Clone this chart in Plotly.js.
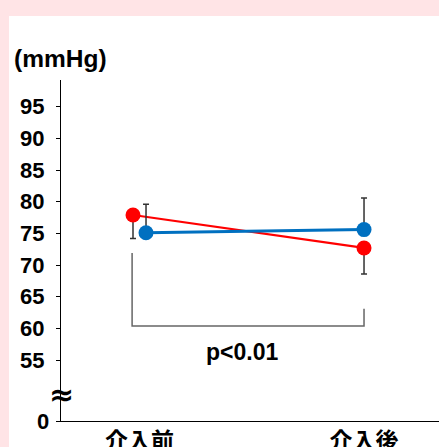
<!DOCTYPE html>
<html>
<head>
<meta charset="utf-8">
<script src="https://cdn.plot.ly/plotly-3.0.1.min.js"></script>
<style>
  html, body { margin: 0; padding: 0; background: #ffe4e6; width: 439px; height: 447px; overflow: hidden; }
  #chart { position: absolute; left: 9px; top: 16px; width: 430px; height: 431px; background: #ffffff; }
</style>
</head>
<body>
<div id="chart"></div>
<script>
// ---- data ----
const categories = ['介入前', '介入後'];
const groupRed = [77.9, 72.7];
const groupRedErrMinus = [3.7, 4.1];
const groupBlue = [75.1, 75.6];
const groupBlueErrPlus = [4.5, 5.0];
const yTickValues = [55, 60, 65, 70, 75, 80, 85, 90, 95];
const yTickLabels = ['55', '60', '65', '70', '75', '80', '85', '90', '95'];
const zeroLabel = '0';
const unitLabel = '(mmHg)';
const pLabel = 'p<0.01';
const bracketLeftTop = 71.9;
const bracketBottom = 60.4;
const bracketRightTop = 63.1;

// ---- layout helpers ----
const catPos = categories.map((c, i) => i);
const dodge = 0.029;
const redX = catPos.map((p, i) => i === 0 ? p - dodge : p);
const blueX = catPos.map((p, i) => i === 0 ? p + dodge : p);
const yBottom = 45.4;
const yTop = 99.2;

const errStyle = { color: '#333333', thickness: 1.5, width: 3 };

const traces = [
  {
    x: [redX[0] - 0.004, redX[0] - 0.004, catPos[1], catPos[1]],
    y: [bracketLeftTop, bracketBottom, bracketBottom, bracketRightTop],
    mode: 'lines', line: { color: '#666666', width: 1.5 }, hoverinfo: 'skip', showlegend: false
  },
  {
    x: redX, y: groupRed, mode: 'lines+markers',
    line: { color: '#ff0000', width: 2.2 },
    marker: { color: '#ff0000', size: 15 },
    error_y: Object.assign({ type: 'data', symmetric: false, array: [0, 0], arrayminus: groupRedErrMinus }, errStyle),
    showlegend: false
  },
  {
    x: blueX, y: groupBlue, mode: 'lines+markers',
    line: { color: '#0070c0', width: 3 },
    marker: { color: '#0070c0', size: 15 },
    error_y: Object.assign({ type: 'data', symmetric: false, array: groupBlueErrPlus, arrayminus: [0, 0] }, errStyle),
    showlegend: false
  }
];

const layout = {
  width: 430, height: 431,
  margin: { l: 52, r: 0, t: 64, b: 26 },
  paper_bgcolor: '#ffffff', plot_bgcolor: '#ffffff',
  font: { family: 'Liberation Sans, Arial, sans-serif', color: '#000000' },
  xaxis: {
    range: [-0.3497, 1.334],
    tickvals: catPos, ticktext: categories,
    tickfont: { family: 'Noto Sans CJK JP', size: 23, weight: 'bold', color: '#000000' },
    showline: true, linecolor: '#000000', linewidth: 1,
    showgrid: false, zeroline: false, ticks: '', ticklabelstandoff: -1
  },
  yaxis: {
    range: [yBottom, yTop],
    tickvals: [yBottom].concat(yTickValues), ticktext: [''].concat(yTickLabels),
    tickfont: { family: 'Liberation Sans, Arial, sans-serif', size: 22, weight: 'bold', color: '#000000' },
    showline: true, linecolor: '#000000', linewidth: 1,
    ticks: 'outside', ticklen: 4, tickcolor: '#000000', tickwidth: 1,
    ticklabelstandoff: 7,
    showgrid: false, zeroline: false
  },
  annotations: [
    { xref: 'paper', yref: 'paper', x: -0.1296, y: 1.0645, xanchor: 'left', yanchor: 'middle',
      text: unitLabel, showarrow: false, font: { size: 24.5, weight: 'bold', color: '#000000' } },
    { xref: 'x', yref: 'y', x: 0.457, y: 56.3, xanchor: 'center', yanchor: 'middle',
      text: pLabel, showarrow: false, font: { size: 23, weight: 'bold', color: '#000000' } },
    { xref: 'paper', yref: 'y', x: 0.002, y: 49.6, xanchor: 'center', yanchor: 'middle',
      text: '≈', showarrow: false, font: { family: 'DejaVu Sans', size: 30, weight: 'bold', color: '#000000' } },
    { xref: 'paper', yref: 'y', x: -0.027, y: yBottom, xanchor: 'right', yanchor: 'middle',
      text: zeroLabel, showarrow: false, font: { size: 22, weight: 'bold', color: '#000000' } }
  ]
};

Plotly.newPlot('chart', traces, layout, { displayModeBar: false, staticPlot: true });
</script>
</body>
</html>
